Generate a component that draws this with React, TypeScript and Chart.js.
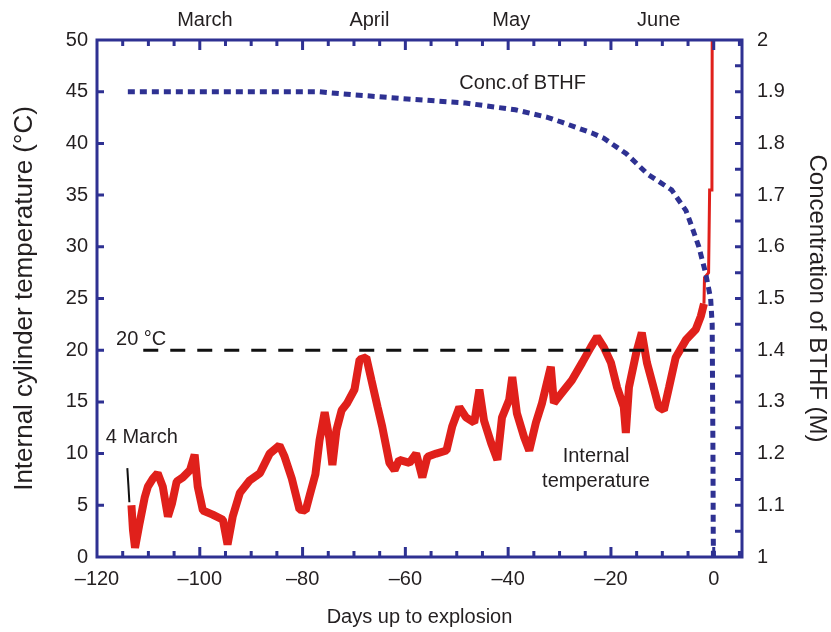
import React, { useEffect, useRef } from 'react';
import { Chart, registerables } from 'chart.js';

Chart.register(...registerables);

// ---------------- data ----------------
const tempDays = [
  -113.3, -113.0, -112.6, -111.7, -110.7, -110.1, -109.1, -108.2, -107.2, -106.2,
  -105.4, -104.5, -103.3, -101.9, -101.0, -100.4, -99.4, -97.5, -95.5, -94.6,
  -93.6, -92.2, -90.3, -88.3, -86.4, -84.5, -83.5, -82.1, -80.6, -79.4,
  -78.6, -77.5, -76.7, -75.7, -74.8, -74.2, -73.4, -72.4, -71.3, -69.9,
  -68.9, -67.6, -66.6, -65.4, -64.5, -63.1, -62.1, -61.2, -59.2, -57.9,
  -56.7, -55.7, -54.0, -52.0, -50.9, -49.5, -48.2, -46.6, -45.6, -44.7,
  -43.3, -42.1, -41.2, -39.8, -39.2, -38.3, -36.9, -35.9, -34.6, -33.4,
  -31.7, -31.1, -29.5, -27.6, -25.6, -23.9, -22.7, -21.4, -20.0, -18.8,
  -17.5, -17.1, -16.5, -15.1, -14.0, -13.0, -11.7, -10.7, -9.7, -8.7,
  -7.4, -5.4, -3.5, -2.5, -1.9,
];
const tempValues = [
  5.0, 2.6, 0.9, 3.3, 5.8, 6.8, 7.6, 8.1, 6.8, 3.9,
  5.2, 7.3, 7.7, 8.4, 9.9, 6.8, 4.5, 4.1, 3.6, 1.2,
  3.9, 6.2, 7.4, 8.1, 10.0, 10.8, 9.7, 7.6, 4.6, 4.5,
  6.0, 8.0, 11.3, 14.0, 11.5, 8.9, 12.3, 14.2, 14.9, 16.2,
  19.1, 19.3, 17.1, 14.5, 12.6, 9.1, 8.4, 9.4, 9.1, 10.0,
  7.7, 9.7, 10.0, 10.3, 12.6, 14.5, 13.5, 13.0, 16.2, 13.2,
  11.0, 9.4, 13.5, 15.2, 17.4, 13.9, 11.6, 10.3, 13.0, 14.9,
  18.4, 14.9, 15.9, 17.1, 18.8, 20.3, 21.3, 20.3, 18.8, 16.4,
  14.5, 12.0, 16.4, 19.7, 21.7, 18.8, 16.4, 14.5, 14.2, 16.4,
  19.3, 21.0, 22.0, 23.3, 24.5,
];
const spikeDays = [-1.9, -1.8, -1.0, -0.8, -0.35, -0.3];
const spikeValues = [24.5, 27.0, 27.5, 35.5, 35.5, 50];

const concDays = [
  -114, -100, -90, -77, -70, -59.6, -51, -48.3, -38.6, -32.2,
  -29.3, -23.7, -21.4, -17, -12.8, -8.2, -5.4, -4.3, -2.9, -1.6,
  -0.6, -0.3, -0.15, -0.1, -0.05,
];
const concValues = [
  1.9, 1.9, 1.9, 1.9, 1.894, 1.886, 1.88, 1.878, 1.865, 1.85,
  1.84, 1.82, 1.81, 1.78, 1.74, 1.71, 1.67, 1.64, 1.6, 1.55,
  1.5, 1.45, 1.2, 1.05, 1.0,
];

const refDays = [-111, -3];
const refValues = [20, 20];
const markerDays = [-114.1, -113.9, -113.7];
const markerValues = [8.6, 7.0, 5.3];

const xTickValues = [-120, -100, -80, -60, -40, -20, 0];
const xMinorTicks = [-115, -110, -105, -100, -95, -90, -85, -80, -75, -70, -65, -60, -55, -50, -45, -40, -35, -30, -25, -20, -15, -10, -5, 0, 5];
const monthLabels = ['March', 'April', 'May', 'June'];
const monthDays = [-99, -67, -39.4, -10.7];
const leftTickValues = [0, 5, 10, 15, 20, 25, 30, 35, 40, 45, 50];
const rightTickValues = [1, 1.1, 1.2, 1.3, 1.4, 1.5, 1.6, 1.7, 1.8, 1.9, 2];
const rightMinorTicks = [1.05, 1.1, 1.15, 1.2, 1.25, 1.3, 1.35, 1.4, 1.45, 1.5, 1.55, 1.6, 1.65, 1.7, 1.75, 1.8, 1.85, 1.9, 1.95];

// ---------------- styles ----------------
const FONT = "'Liberation Sans', Arial, Helvetica, sans-serif";
const AXIS = '#2e3192';
const RED = '#e0201b';
const TXT = '#231f20';

const pts = (xs: number[], ys: number[]) => xs.map((x, i) => ({ x, y: ys[i] }));

const framePlugin = {
  id: 'frame',
  afterDatasetsDraw(chart: any) {
    const { ctx, chartArea, scales } = chart;
    const { left, right, top, bottom } = chartArea;
    ctx.save();
    ctx.strokeStyle = AXIS;
    ctx.lineWidth = 3;
    ctx.lineCap = 'butt';
    ctx.beginPath();
    for (const v of xMinorTicks) {
      const px = scales.x.getPixelForValue(v);
      if (px <= left + 2 || px >= right - 2) continue;
      const len = v % 20 === 0 ? 10 : 6;
      ctx.moveTo(px, bottom);
      ctx.lineTo(px, bottom - len);
      ctx.moveTo(px, top);
      ctx.lineTo(px, top + len);
    }
    for (const v of leftTickValues) {
      const py = scales.y.getPixelForValue(v);
      if (py <= top + 2 || py >= bottom - 2) continue;
      ctx.moveTo(left, py);
      ctx.lineTo(left + 7, py);
    }
    for (const v of rightMinorTicks) {
      const py = scales.y2.getPixelForValue(v);
      ctx.moveTo(right, py);
      ctx.lineTo(right - 7, py);
    }
    ctx.stroke();
    ctx.strokeRect(left, top, right - left, bottom - top);

    // annotations
    ctx.fillStyle = TXT;
    ctx.font = `20px ${FONT}`;
    ctx.textBaseline = 'middle';
    ctx.textAlign = 'left';
    ctx.fillText('Conc.of BTHF', scales.x.getPixelForValue(-49.5), scales.y2.getPixelForValue(1.915));
    ctx.fillText('20 °C', scales.x.getPixelForValue(-116.3), scales.y.getPixelForValue(21.0));
    ctx.fillText('4 March', scales.x.getPixelForValue(-118.3), scales.y.getPixelForValue(11.6));
    ctx.textAlign = 'center';
    ctx.fillText('Internal', scales.x.getPixelForValue(-22.9), scales.y.getPixelForValue(9.7));
    ctx.fillText('temperature', scales.x.getPixelForValue(-22.9), scales.y.getPixelForValue(7.35));
    ctx.restore();
  },
};

const fmtMinus = (v: number) => (v < 0 ? '\u2013' + Math.abs(v) : String(v));

export default function App() {
  const ref = useRef<HTMLCanvasElement>(null);
  useEffect(() => {
    if (!ref.current) return;
    const tickFont = { family: FONT, size: 20 };
    const chart = new Chart(ref.current, {
      type: 'line',
      data: {
        datasets: [
          {
            label: 'BTHF',
            data: pts(concDays, concValues),
            yAxisID: 'y2',
            xAxisID: 'x',
            borderColor: AXIS,
            borderWidth: 5,
            borderDash: [7, 5],
            pointRadius: 0,
            tension: 0,
          },
          {
            label: '20C',
            data: pts(refDays, refValues),
            yAxisID: 'y',
            xAxisID: 'x',
            borderColor: '#111111',
            borderWidth: 3,
            borderDash: [15, 12],
            pointRadius: 0,
          },
          {
            label: 'temp',
            data: pts(tempDays, tempValues),
            yAxisID: 'y',
            xAxisID: 'x',
            borderColor: RED,
            borderWidth: 8,
            borderJoinStyle: 'bevel',
            pointRadius: 0,
            tension: 0,
          },
          {
            label: 'spike',
            data: pts(spikeDays, spikeValues),
            yAxisID: 'y',
            xAxisID: 'x',
            borderColor: RED,
            borderWidth: 3,
            pointRadius: 0,
            tension: 0,
          },
          {
            label: 'marker',
            data: pts(markerDays, markerValues),
            yAxisID: 'y',
            xAxisID: 'x',
            borderColor: '#111111',
            borderWidth: 2,
            pointRadius: 0,
          },
        ],
      },
      options: {
        animation: false,
        responsive: false,
        layout: { padding: 0 },
        plugins: { legend: { display: false }, tooltip: { enabled: false } },
        scales: {
          x: {
            type: 'linear',
            position: 'bottom',
            min: -120,
            max: 5.5,
            afterBuildTicks: (s: any) => { s.ticks = xTickValues.map((v) => ({ value: v })); },
            afterFit: (s: any) => { s.height = 75; },
            grid: { display: false, drawTicks: false },
            border: { display: false },
            ticks: { font: tickFont, color: TXT, padding: 10, maxRotation: 0, autoSkip: false, callback: (v: any) => fmtMinus(Number(v)) },
            title: { display: true, text: 'Days up to explosion', font: { family: FONT, size: 20 }, color: TXT, padding: { bottom: 3, top: 0 } },
          },
          xTop: {
            type: 'linear',
            position: 'top',
            min: -120,
            max: 5.5,
            afterBuildTicks: (s: any) => { s.ticks = monthDays.map((v) => ({ value: v })); },
            afterFit: (s: any) => { s.height = 40; },
            grid: { display: false, drawTicks: false },
            border: { display: false },
            ticks: { font: tickFont, color: TXT, padding: 8, maxRotation: 0, autoSkip: false, callback: (_v: any, i: number) => monthLabels[i] },
          },
          y: {
            type: 'linear',
            position: 'left',
            min: 0,
            max: 50,
            afterBuildTicks: (s: any) => { s.ticks = leftTickValues.map((v) => ({ value: v })); },
            afterFit: (s: any) => { s.width = 97; },
            grid: { display: false, drawTicks: false },
            border: { display: false },
            ticks: { font: tickFont, color: TXT, padding: 9, callback: (v: any) => String(v) },
            title: { display: true, text: 'Internal cylinder temperature (°C)', font: { family: FONT, size: 26 }, color: TXT, padding: { top: 9, bottom: 0 } },
          },
          y2: {
            type: 'linear',
            position: 'right',
            min: 1,
            max: 2,
            afterBuildTicks: (s: any) => { s.ticks = rightTickValues.map((v) => ({ value: v })); },
            afterFit: (s: any) => { s.width = 89; },
            grid: { display: false, drawTicks: false },
            border: { display: false },
            ticks: {
              font: tickFont, color: TXT, padding: 15,
              callback: (v: any) => { const n = Number(v); return n === 1 || n === 2 ? String(n) : n.toFixed(1); },
            },
            title: { display: true, text: 'Concentration of BTHF (M)', font: { family: FONT, size: 24 }, color: TXT, padding: { top: 0, bottom: 0 } },
          },
        },
      },
      plugins: [framePlugin],
    } as any);
    return () => chart.destroy();
  }, []);
  return (
    <div style={{ position: 'absolute', left: 0, top: 0, width: 831, height: 632, background: '#fff' }}>
      <canvas ref={ref} width={831} height={632} style={{ display: 'block' }} />
    </div>
  );
}
